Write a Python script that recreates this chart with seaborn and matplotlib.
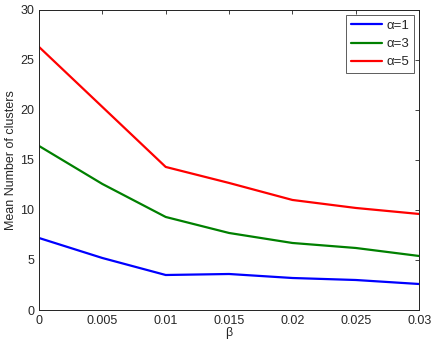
import numpy as np
import pandas as pd
import matplotlib
matplotlib.use("Agg")
import matplotlib.pyplot as plt
import seaborn as sns

beta = [0, 0.005, 0.01, 0.015, 0.02, 0.025, 0.03]
alpha1 = [7.2, 5.2, 3.5, 3.6, 3.2, 3.0, 2.6]
alpha3 = [16.4, 12.6, 9.3, 7.7, 6.7, 6.2, 5.4]
alpha5 = [26.3, 20.3, 14.3, 12.7, 11.0, 10.2, 9.6]
labels = ["\u03b1=1", "\u03b1=3", "\u03b1=5"]
colors = ["#0000ff", "#008000", "#ff0000"]

sns.set_style("white")
plt.rcParams["font.family"] = ["Liberation Sans", "DejaVu Sans"]

df = pd.DataFrame({
    "beta": beta * 3,
    "value": alpha1 + alpha3 + alpha5,
    "series": np.repeat(labels, len(beta)),
})

fig = plt.figure(figsize=(4.36, 3.45), dpi=100)
ax = fig.add_axes([0.0894, 0.1014, 0.872, 0.870])
sns.lineplot(data=df, x="beta", y="value", hue="series", palette=colors,
             linewidth=1.6, ax=ax)

ax.set_xlim(0, 0.03)
ax.set_ylim(0, 30)
ax.set_xticks(beta)
ax.set_xticklabels(["0", "0.005", "0.01", "0.015", "0.02", "0.025", "0.03"])
ax.set_yticks(range(0, 31, 5))
ax.set_xlabel("\u03b2", fontsize=9, labelpad=0)
ax.set_ylabel("Mean Number of clusters", fontsize=9, labelpad=2)
ax.tick_params(direction="in", top=True, right=True, length=3, labelsize=9,
               width=0.6, color="#222222")
for s in ax.spines.values():
    s.set_linewidth(0.7)
    s.set_color("#222222")

leg = ax.legend(loc="upper right", fontsize=9.5, frameon=True, fancybox=False,
                borderpad=0.35, handlelength=2.4, handletextpad=0.3,
                labelspacing=0.45, borderaxespad=0.4)
leg.get_frame().set_edgecolor("#333333")
leg.get_frame().set_linewidth(0.7)

fig.savefig("out.png", dpi=100)
